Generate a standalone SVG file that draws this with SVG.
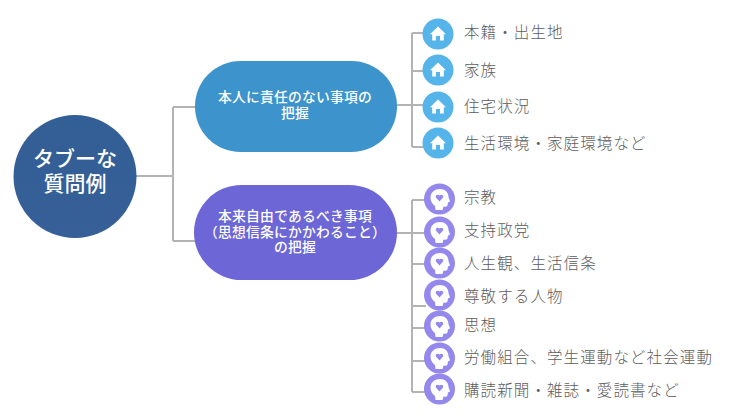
<svg xmlns="http://www.w3.org/2000/svg" xmlns:xlink="http://www.w3.org/1999/xlink" width="730" height="418" viewBox="0 0 730 418">
<style>
text{font-family:"Noto Sans CJK JP","Noto Sans",sans-serif}
.w{fill:#fff;text-anchor:middle}
.root{font-size:21px;font-weight:500}
.pill{font-size:13.800px;font-weight:500;letter-spacing:.2px}
.item{font-size:15.500px;fill:#5c5c5c;letter-spacing:1.100px;font-weight:300}
.c{fill:none;stroke:#b3b3b3;stroke-width:2}
</style>
<defs>
<linearGradient id="rg" x1="0" y1="0" x2="0" y2="1"><stop offset="0" stop-color="#325f95"/><stop offset="1" stop-color="#375f98"/></linearGradient>
<g id="house"><circle r="15.500" fill="#55b4ea"/><path d="M0-7.500 8 0.200 5.800 0.200 5.800 6.500 2 6.500 2 2-2 2-2 6.500-5.800 6.500-5.800 0.200-8 0.200Z" fill="#fff"/></g>
<g id="head"><circle r="15.500" fill="#9488ec"/><path d="M-9-1.500C-9-7-4.500-10 .500-10 5.500-10 9-6.500 9-2 9-1 10.500 1.500 10.500 2.500L8.500 3.500 8 6C8 7.500 6.500 8 4 7.500L3 11-4 11-4.500 7C-7 5-9 2.500-9-1.500Z" fill="#fff"/><path d="M0 2.500-3.600-1.500C-4.500-3.500-2-5.200 0-3.500 2-5.200 4.500-3.500 3.600-1.500Z" fill="#9488ec"/></g>
</defs>
<g id="connectors">
<path class="c" d="M136 176H173M173 107V241M173 107H196M173 241H196"/>
<path class="c" d="M396 105H412M412 33V147M412 33H424M412 71H424M412 105H424M412 147H424"/>
<path class="c" d="M396 233H412M412 200V392M412 200H426M412 233H426M412 264H426M412 306H426M412 328H426M412 361H426M412 392H426"/>
</g>
<g id="root"><circle cx="75" cy="176.500" r="61.500" fill="url(#rg)"/><text class="w root" x="75" y="166">タブーな<tspan x="75" dy="25">質問例</tspan></text></g>
<g id="topic1"><rect x="195" y="61" width="202" height="91" rx="45.500" fill="#3d93cb"/><text class="w pill" x="295" y="102">本人に責任のない事項の<tspan x="295" dy="16">把握</tspan></text></g>
<g id="topic2"><rect x="194" y="185" width="203" height="95" rx="47.500" fill="#6c66d6"/><text class="w pill" x="295" y="221">本来自由であるべき事項<tspan x="295" dy="15.500">（思想信条にかかわること）</tspan><tspan x="295" dy="15.500">の把握</tspan></text></g>
<g id="a1"><use xlink:href="#house" x="438" y="34"/><text class="item" x="464" y="38">本籍・出生地</text></g>
<g id="a2"><use xlink:href="#house" x="438" y="70"/><text class="item" x="464" y="76">家族</text></g>
<g id="a3"><use xlink:href="#house" x="438" y="107"/><text class="item" x="464" y="112">住宅状況</text></g>
<g id="a4"><use xlink:href="#house" x="438" y="143"/><text class="item" x="464" y="149">生活環境・家庭環境など</text></g>
<g id="b1"><use xlink:href="#head" x="439.500" y="199"/><text class="item" x="464" y="203">宗教</text></g>
<g id="b2"><use xlink:href="#head" x="439.500" y="232"/><text class="item" x="464" y="236">支持政党</text></g>
<g id="b3"><use xlink:href="#head" x="439.500" y="263"/><text class="item" x="464" y="269">人生観、生活信条</text></g>
<g id="b4"><use xlink:href="#head" x="439.500" y="295"/><text class="item" x="464" y="302">尊敬する人物</text></g>
<g id="b5"><use xlink:href="#head" x="439.500" y="326"/><text class="item" x="464" y="331">思想</text></g>
<g id="b6"><use xlink:href="#head" x="439.500" y="358"/><text class="item" x="464" y="363">労働組合、学生運動など社会運動</text></g>
<g id="b7"><use xlink:href="#head" x="439.500" y="389"/><text class="item" x="464" y="396">購読新聞・雑誌・愛読書など</text></g>
</svg>
